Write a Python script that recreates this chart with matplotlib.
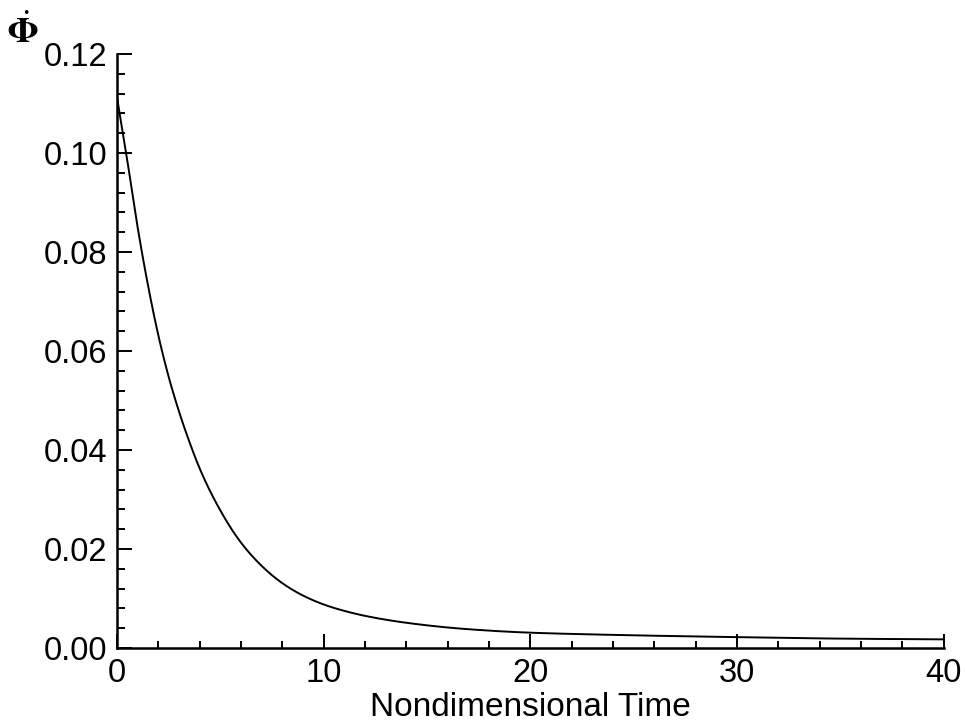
import numpy as np
import matplotlib
matplotlib.use('Agg')
from matplotlib import pyplot as plt
from matplotlib.ticker import MultipleLocator

# values
t = [0.0, 0.5, 1.0, 1.5, 2.0, 2.5, 3.0, 3.5, 4.0, 5.0, 6.0, 7.0, 8.0,
     9.0, 10.0, 11.0, 12.0, 14.0, 17.0, 20.0, 23.5, 30.0, 35.0, 40.0]
phidot = [0.1114, 0.0985, 0.0850, 0.0733, 0.0632, 0.0548, 0.0478, 0.0417,
          0.0363, 0.0278, 0.0213, 0.0166, 0.0131, 0.0106, 0.0088, 0.0075,
          0.0065, 0.0051, 0.0038, 0.0031, 0.0027, 0.0022, 0.0019, 0.00175]

xticks = [0, 10, 20, 30, 40]
yticks = [0.00, 0.02, 0.04, 0.06, 0.08, 0.10, 0.12]


def pchip(x, y, xn):
    # monotone cubic (Fritsch-Carlson) so the curve is smooth between read points
    x = np.asarray(x, float); y = np.asarray(y, float)
    h = np.diff(x); d = np.diff(y) / h
    m = np.zeros_like(y)
    for k in range(1, len(x) - 1):
        if d[k-1] * d[k] > 0:
            w1 = 2*h[k] + h[k-1]; w2 = h[k] + 2*h[k-1]
            m[k] = (w1 + w2) / (w1/d[k-1] + w2/d[k])
    m[0] = d[0]; m[-1] = d[-1]
    i = np.clip(np.searchsorted(x, xn) - 1, 0, len(x) - 2)
    s = (xn - x[i]) / h[i]
    h00 = 2*s**3 - 3*s**2 + 1; h10 = s**3 - 2*s**2 + s
    h01 = -2*s**3 + 3*s**2; h11 = s**3 - s**2
    return h00*y[i] + h10*h[i]*m[i] + h01*y[i+1] + h11*h[i]*m[i+1]


plt.rcParams['font.family'] = ['Liberation Sans', 'DejaVu Sans']

fig = plt.figure(figsize=(9.65, 7.26), dpi=100)
ax = fig.add_axes([0.1212, 0.1074, 0.8568, 0.8182])

tt = np.linspace(0, 40, 800)
yy = np.exp(pchip(t, np.log(phidot), tt))
ax.plot(tt, yy, color='black', lw=1.4)

ax.set_xlim(0, 40)
ax.set_ylim(0, 0.12)
ax.set_xticks(xticks)
ax.set_yticks(yticks)
ax.set_yticklabels(['%.2f' % v for v in yticks])
ax.xaxis.set_minor_locator(MultipleLocator(2))
ax.yaxis.set_minor_locator(MultipleLocator(0.004))

for s in ['top', 'right']:
    ax.spines[s].set_visible(False)
for s in ['left', 'bottom']:
    ax.spines[s].set_linewidth(1.8)

ax.tick_params(which='both', direction='in', labelsize=23.5, width=1.4)
ax.tick_params(axis='y', which='major', length=11, pad=7)
ax.tick_params(axis='y', which='minor', length=6)
ax.tick_params(axis='x', which='major', length=10, pad=7)
ax.tick_params(axis='x', which='minor', length=5)

ax.set_xlabel('Nondimensional Time', fontsize=24, labelpad=2)
fig.text(0.024, 0.955, r'$\dot{\mathbf{\Phi}}$', fontsize=26, ha='center', va='center',
         math_fontfamily='stix')

fig.savefig('out.png', dpi=100)
